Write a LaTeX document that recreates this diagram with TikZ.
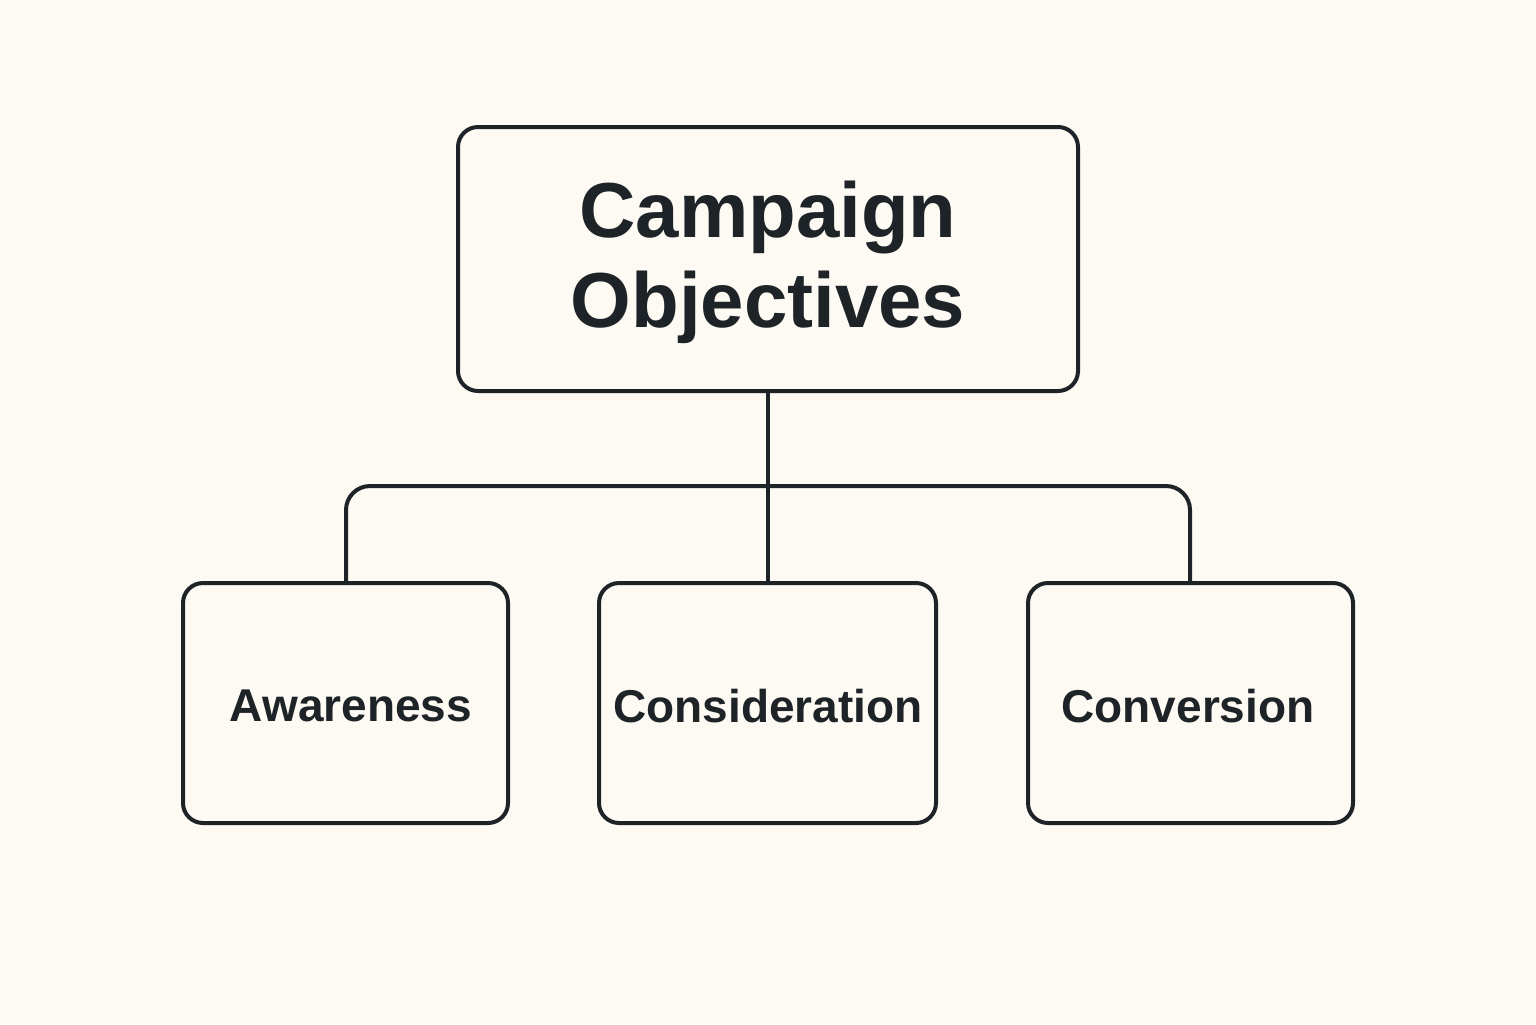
\documentclass[tikz,border=0pt]{standalone}
\usepackage{fontspec}
\setmainfont{Liberation Sans}
\definecolor{bg}{HTML}{FDFAF3}
\definecolor{ink}{HTML}{1E2328}
\begin{document}
\begin{tikzpicture}[x=0.5pt,y=-0.5pt,
  box/.style={draw=ink,line width=2pt,rounded corners=10pt},
  lbl/.style={text=ink,font=\bfseries\fontsize{23}{27}\selectfont},
  conn/.style={draw=ink,line width=2pt}]
\fill[bg] (0,0) rectangle (1536,1024);
\useasboundingbox (0,0) rectangle (1536,1024);
\draw[box] (458,127) rectangle (1078,391);
\node[text=ink,font=\bfseries\fontsize{39}{45}\selectfont,align=center] (top) at (768,262) {Campaign\\Objectives};
\coordinate (tb) at (768,391);
\draw[box] (183,583) rectangle (508,823);
\draw[box] (599,583) rectangle (936,823);
\draw[box] (1028,583) rectangle (1353,823);
\node[lbl] (a) at (351,706) {Awareness};
\node[lbl] (b) at (768,706) {Consideration};
\node[lbl] (c) at (1188,706) {Conversion};
\coordinate (at) at (346,583);
\coordinate (bt) at (768,583);
\coordinate (ct) at (1190,583);
\draw[conn] (tb) -- (bt);
\draw[conn,rounded corners=12pt] (at) -- (346,486) -- (1190,486) -- (ct);
\end{tikzpicture}
\end{document}
